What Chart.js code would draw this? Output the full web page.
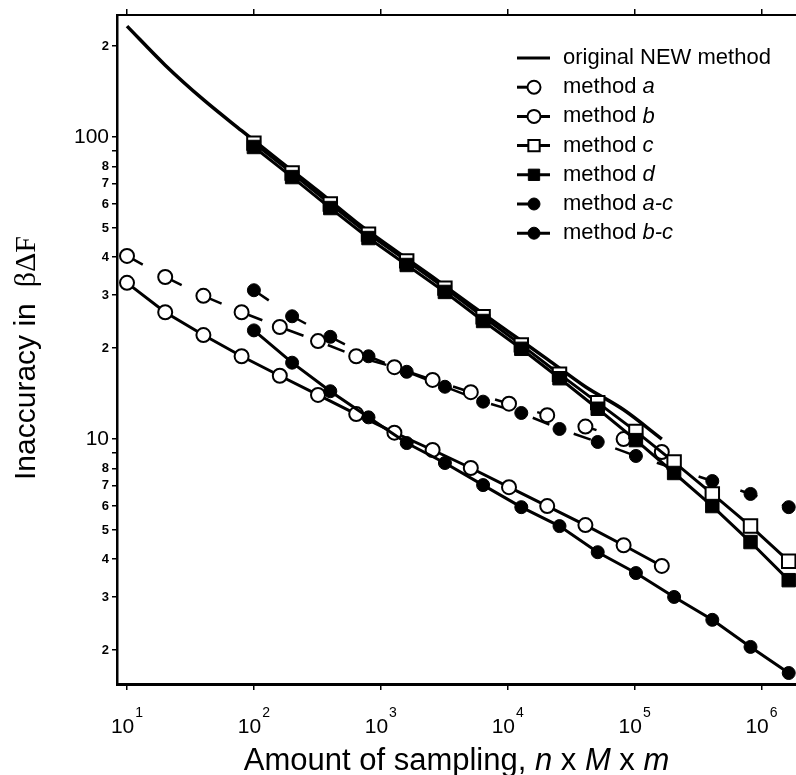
<!DOCTYPE html>
<html>
<head>
<meta charset="utf-8">
<title>Inaccuracy vs amount of sampling</title>
<script src="https://cdn.jsdelivr.net/npm/chart.js@4.4.1/dist/chart.umd.min.js"></script>
<style>
  html, body { margin: 0; padding: 0; background: #fff; }
  #wrap { width: 796px; height: 775px; }
</style>
</head>
<body>
<div id="wrap"><canvas id="chart" width="796" height="775"></canvas></div>
<script>
// ── DATA ────────────────────────────────────────────────────
// sampling amounts (n x M x m)
const xFrom10  = [10, 20, 40, 80, 160, 320, 640, 1280, 2560, 5120, 10240, 20480, 40960, 81920, 163840];
const xFrom100 = [100, 200, 400, 800, 1600, 3200, 6400, 12800, 25600, 51200, 102400, 204800, 409600, 819200, 1638400];

// inaccuracy in beta*dF
const newMethod = [233, 173, 133, 105, 83.3, 66.3, 52.3, 42.3, 34.4, 27.8, 22.6, 18.4, 14.9, 12.5, 10.0];
const methodA   = [40.4, 34.4, 29.8, 26.3, 23.5, 21.1, 18.8, 17.3, 15.7, 14.3, 13.1, 12.0, 11.0, 10.0, 9.06];
const methodB   = [32.9, 26.3, 22.1, 18.8, 16.2, 14.0, 12.1, 10.5, 9.2, 8.02, 6.93, 6.0, 5.19, 4.45, 3.80];
const methodC   = [95.5, 76.0, 60.0, 47.7, 38.9, 31.6, 25.4, 20.5, 16.4, 13.2, 10.6, 8.39, 6.58, 5.15, 3.94];
const methodD   = [92.7, 73.7, 58.2, 46.3, 37.7, 30.7, 24.6, 19.9, 15.9, 12.6, 9.92, 7.72, 6.0, 4.56, 3.41];
const methodAC  = [31.1, 25.5, 21.8, 18.8, 16.7, 14.9, 13.3, 12.2, 10.8, 9.78, 8.79, 8.0, 7.26, 6.58, 5.95];
const methodBC  = [22.9, 17.9, 14.4, 11.8, 9.7, 8.33, 7.04, 5.95, 5.15, 4.22, 3.60, 3.0, 2.52, 2.05, 1.68];

// axis ticks
const xDecades    = [10, 100, 1000, 10000, 100000, 1000000];
const yTickValues = [2, 3, 4, 5, 6, 7, 8, 9, 10, 20, 30, 40, 50, 60, 70, 80, 90, 100, 200];
const yTickLabels = ['2', '3', '4', '5', '6', '7', '8', '', '10', '2', '3', '4', '5', '6', '7', '8', '', '100', '2'];

// ── STYLE ───────────────────────────────────────────────────
const SANS  = '"Liberation Sans", Arial, Helvetica, sans-serif';
const SERIF = '"Liberation Serif", "Times New Roman", serif';
const INK   = '#000';

function pts(xs, ys) {
  return xs.map((x, i) => ({ x: x, y: ys[i] }));
}

const DASH = [18, 26];

const datasets = [
  { label: 'original NEW method', data: pts(xFrom10, newMethod),
    borderWidth: 3.5, pointRadius: 0, order: 5, legendLine: 'full',
    cubicInterpolationMode: 'monotone' },
  { label: 'method a', data: pts(xFrom10, methodA),
    borderWidth: 2.5, borderDash: DASH, pointStyle: 'circle', pointRadius: 7,
    pointBackgroundColor: '#fff', pointBorderWidth: 2, order: 4, legendLine: 'short' },
  { label: 'method b', data: pts(xFrom10, methodB),
    borderWidth: 3, pointStyle: 'circle', pointRadius: 7,
    pointBackgroundColor: '#fff', pointBorderWidth: 2, order: 3, legendLine: 'full' },
  { label: 'method c', data: pts(xFrom100, methodC),
    borderWidth: 3, pointStyle: 'rect', pointRadius: 9.5,
    pointBackgroundColor: '#fff', pointBorderWidth: 2, order: 1, legendLine: 'full' },
  { label: 'method d', data: pts(xFrom100, methodD),
    borderWidth: 3, pointStyle: 'rect', pointRadius: 9.5,
    pointBackgroundColor: INK, pointBorderWidth: 1, order: 0, legendLine: 'full' },
  { label: 'method a-c', data: pts(xFrom100, methodAC),
    borderWidth: 2.5, borderDash: DASH, pointStyle: 'circle', pointRadius: 6.5,
    pointBackgroundColor: INK, pointBorderWidth: 1, order: 4, legendLine: 'short' },
  { label: 'method b-c', data: pts(xFrom100, methodBC),
    borderWidth: 3, pointStyle: 'circle', pointRadius: 6.5,
    pointBackgroundColor: INK, pointBorderWidth: 1, order: 2, legendLine: 'full' },
];
datasets.forEach(d => {
  d.borderColor = INK;
  d.pointBorderColor = INK;
  d.fill = false;
});

// ── ANNOTATIONS: titles, x labels with exponents, legend ────
const annotate = {
  id: 'annotate',
  afterDraw(chart) {
    const ctx = chart.ctx;
    const area = chart.chartArea;
    const xs = chart.scales.x;
    ctx.save();
    ctx.fillStyle = INK;
    ctx.strokeStyle = INK;

    // x tick labels: 10^n
    xDecades.forEach(v => {
      const px = xs.getPixelForValue(v);
      const exp = String(Math.round(Math.log10(v)));
      ctx.font = '21px ' + SANS;
      const wBase = ctx.measureText('10').width;
      ctx.font = '14px ' + SANS;
      const wExp = ctx.measureText(exp).width;
      const left = px - (wBase + wExp + 1) / 2;
      ctx.textAlign = 'left';
      ctx.textBaseline = 'alphabetic';
      ctx.font = '21px ' + SANS;
      ctx.fillText('10', left, area.bottom + 49);
      ctx.font = '14px ' + SANS;
      ctx.fillText(exp, left + wBase + 1, area.bottom + 33);
    });

    // x title with italic symbols
    const xParts = [
      ['Amount of sampling, ', false], ['n', true], [' x ', false],
      ['M', true], [' x ', false], ['m', true]
    ];
    let total = 0;
    xParts.forEach(p => {
      ctx.font = (p[1] ? 'italic ' : '') + '31px ' + SANS;
      total += ctx.measureText(p[0]).width;
    });
    let cx = (area.left + area.right) / 2 - total / 2;
    xParts.forEach(p => {
      ctx.font = (p[1] ? 'italic ' : '') + '31px ' + SANS;
      ctx.fillText(p[0], cx, area.bottom + 86);
      cx += ctx.measureText(p[0]).width;
    });

    // y title, rotated
    ctx.save();
    ctx.translate(35, 480);
    ctx.rotate(-Math.PI / 2);
    ctx.font = '30px ' + SANS;
    ctx.fillText('Inaccuracy in', 0, 0);
    const wy = ctx.measureText('Inaccuracy in').width;
    ctx.font = '30px ' + SERIF;
    ctx.fillText('\u03B2\u0394F', wy + 16, 0);
    ctx.restore();

    // legend
    const lx = area.left + 400;
    const ly = area.top + 43;
    const rowH = 29.2;
    chart.data.datasets.forEach((d, i) => {
      const y = ly + i * rowH;
      ctx.lineWidth = 3;
      ctx.setLineDash([]);
      ctx.beginPath();
      ctx.moveTo(lx, y);
      ctx.lineTo(d.legendLine === 'short' ? lx + 14 : lx + 33, y);
      ctx.stroke();
      if (d.pointRadius > 0) {
        ctx.fillStyle = d.pointBackgroundColor;
        ctx.lineWidth = d.pointBorderWidth;
        Chart.helpers.drawPoint(ctx, {
          pointStyle: d.pointStyle,
          radius: d.pointStyle === 'rect' ? d.pointRadius - 1.5 : d.pointRadius - 0.5,
          borderWidth: d.pointBorderWidth,
          rotation: 0
        }, lx + 17, y);
      }
      ctx.fillStyle = INK;
      ctx.textBaseline = 'middle';
      let tx = lx + 46;
      const m = d.label.match(/^method (.+)$/);
      ctx.font = '22px ' + SANS;
      if (m) {
        ctx.fillText('method ', tx, y);
        tx += ctx.measureText('method ').width;
        ctx.font = 'italic 22px ' + SANS;
        ctx.fillText(m[1], tx, y);
      } else {
        ctx.fillText(d.label, tx, y);
      }
    });
    ctx.restore();
  }
};

// ── CHART ───────────────────────────────────────────────────
const xAxisBase = {
  type: 'logarithmic',
  min: 8.34,
  max: 1.87e6,
  afterBuildTicks: s => { s.ticks = xDecades.map(v => ({ value: v })); },
  ticks: { display: false },
  grid: { drawOnChartArea: false, drawTicks: true, tickLength: 6, color: INK, lineWidth: 1.5 },
  border: { display: true, color: INK, width: 3 }
};

new Chart(document.getElementById('chart'), {
  type: 'line',
  data: { datasets: datasets },
  options: {
    responsive: false,
    devicePixelRatio: 1,
    animation: false,
    events: [],
    layout: { padding: 0, autoPadding: false },
    plugins: { legend: { display: false }, tooltip: { enabled: false } },
    scales: {
      x: Object.assign({}, xAxisBase, {
        position: 'bottom',
        afterFit: s => { s.height = 91; }
      }),
      xTop: Object.assign({}, xAxisBase, {
        position: 'top',
        border: { display: true, color: INK, width: 2 },
        afterFit: s => { s.height = 15; }
      }),
      y: {
        type: 'logarithmic',
        position: 'left',
        min: 1.545,
        max: 253.6,
        afterBuildTicks: s => { s.ticks = yTickValues.map(v => ({ value: v })); },
        afterFit: s => { s.width = 117; },
        ticks: {
          autoSkip: false,
          color: INK,
          padding: 3,
          callback: (v, i) => yTickLabels[i],
          font: c => (c.tick && (c.tick.value === 10 || c.tick.value === 100))
            ? { family: SANS, size: 21 }
            : { family: SANS, size: 13, weight: 'bold' }
        },
        grid: { drawOnChartArea: false, drawTicks: true, tickLength: 5, color: INK, lineWidth: 1.5 },
        border: { display: true, color: INK, width: 2.5 }
      }
    }
  },
  plugins: [annotate]
});
</script>
</body>
</html>
